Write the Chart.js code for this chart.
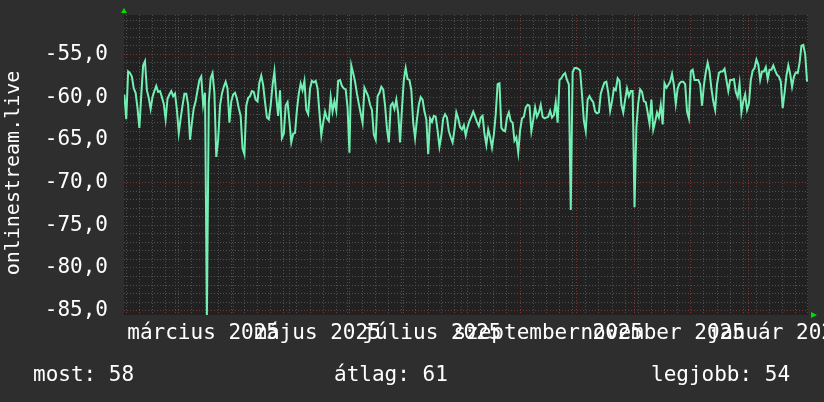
<!DOCTYPE html>
<html>
<head>
<meta charset="utf-8">
<script src="https://cdn.jsdelivr.net/npm/chart.js@4.4.1/dist/chart.umd.min.js"></script>
<style>
  html, body { margin: 0; padding: 0; background: #2e2e2e; }
  canvas { display: block; }
</style>
</head>
<body>
<canvas id="chart" width="824" height="402"></canvas>
<script>
// day numbers count from 2025-02-01 (day 0)
const firstDay = 1
const values = [
  -59.7, -62.6, -57.0, -57.2, -57.6, -59.0, -59.5, -61.3, -63.6, -59.8,
  -56.3, -55.8, -59.2, -60.1, -61.4, -60.0, -59.3, -58.7, -59.4, -59.3,
  -60.0, -60.8, -62.6, -60.2, -59.7, -59.3, -59.9, -59.6, -61.5, -64.2,
  -62.5, -61.0, -59.6, -59.6, -60.9, -65.0, -63.0, -61.3, -60.5, -59.2,
  -58.0, -57.6, -60.9, -59.5, -85.5, -60.7, -57.8, -57.2, -59.5, -67.0,
  -65.0, -61.0, -59.6, -58.8, -58.2, -59.0, -63.0, -60.5, -59.7, -59.5,
  -60.2, -61.3, -62.2, -66.0, -66.7, -61.0, -60.1, -59.9, -59.3, -59.4,
  -60.3, -60.5, -58.3, -57.5, -58.6, -60.6, -62.4, -62.6, -61.0, -58.6,
  -57.0, -60.0, -62.2, -59.2, -64.8, -64.3, -61.0, -60.6, -62.8, -65.3,
  -64.3, -64.2, -61.5, -59.6, -58.4, -59.2, -58.1, -61.5, -62.0, -59.0,
  -58.1, -58.3, -58.1, -59.0, -61.8, -64.5, -63.0, -61.7, -62.5, -62.8,
  -60.0, -61.7, -60.5, -61.6, -58.1, -58.0, -58.7, -59.0, -59.1, -61.2,
  -66.5, -56.3, -57.2, -58.2, -59.6, -60.8, -61.9, -63.0, -58.9, -59.4,
  -59.9, -60.9, -61.5, -64.4, -65.0, -59.9, -59.5, -58.8, -59.1, -61.0,
  -63.7, -65.3, -61.0, -60.7, -61.4, -60.3, -61.9, -65.3, -61.4, -58.0,
  -56.6, -57.9, -58.0, -59.2, -63.0, -64.8, -62.6, -60.9, -60.0, -60.3,
  -61.7, -62.6, -66.7, -62.5, -62.9, -62.2, -62.3, -63.9, -65.8, -64.5,
  -62.5, -62.0, -62.4, -64.0, -64.7, -65.3, -63.8, -61.8, -62.5, -63.5,
  -63.8, -63.3, -64.5, -63.5, -62.8, -62.3, -61.7, -62.3, -62.9, -63.4,
  -62.4, -62.2, -64.3, -65.6, -63.8, -64.7, -65.9, -64.4, -62.0, -58.5,
  -58.4, -63.6, -63.9, -64.0, -62.4, -61.8, -62.8, -63.0, -65.1, -64.7,
  -66.5, -63.9, -62.5, -62.3, -61.2, -60.9, -61.0, -64.0, -62.7, -61.2,
  -62.3, -61.8, -60.9, -62.3, -62.5, -62.4, -62.3, -61.6, -62.4, -62.1,
  -60.6, -63.0, -58.0, -57.8, -57.4, -57.2, -58.0, -58.5, -73.2, -57.1,
  -56.6, -56.6, -56.7, -56.9, -59.7, -62.8, -64.0, -60.3, -59.9, -60.3,
  -60.6, -61.7, -61.9, -61.8, -59.6, -58.9, -58.3, -58.2, -59.5, -61.6,
  -60.5, -59.0, -59.2, -57.8, -58.1, -60.9, -61.8, -60.3, -59.0, -59.9,
  -59.3, -59.3, -72.9, -63.5, -60.7, -59.1, -59.4, -60.5, -60.6, -61.8,
  -63.1, -60.3, -63.8, -62.9, -61.8, -62.4, -60.9, -63.2, -58.4, -58.9,
  -58.6, -58.2, -57.3, -58.6, -60.8, -59.0, -58.4, -58.2, -58.2, -58.5,
  -61.7, -62.5, -57.0, -56.8, -58.0, -58.0, -58.0, -58.5, -61.0, -58.6,
  -57.1, -56.0, -57.0, -59.0, -60.5, -61.5, -58.5, -57.2, -57.0, -57.0,
  -56.7, -58.0, -59.3, -58.0, -58.0, -57.9, -59.4, -60.0, -58.4, -61.8,
  -60.5, -59.7, -61.5, -60.8, -58.0, -56.9, -56.6, -55.6, -56.2, -58.0,
  -57.0, -57.0, -56.5, -57.9, -56.8, -56.8, -56.3, -56.9, -57.4, -57.6,
  -58.2, -61.3, -59.5, -57.5, -56.3, -57.3, -58.8, -57.6, -57.1, -57.2,
  -56.0, -54.0, -53.9, -55.0, -58.2
]

// grid: mondays (grey) and first days of months (red)
const weekDays = [2, 9, 16, 23, 30, 37, 44, 51, 58, 65, 72, 79, 86, 93, 100, 107, 114, 121,
  128, 135, 142, 149, 156, 163, 170, 177, 184, 191, 198, 205, 212, 219, 226, 233, 240, 247,
  254, 261, 268, 275, 282, 289, 296, 303, 310, 317, 324, 331, 338, 345, 352, 359]
const monthDays = [28, 59, 89, 120, 150, 181, 212, 242, 273, 303, 334, 365]
const labelDays = [43, 104, 165, 227, 288, 349]
const monthLabels = ['március 2025', 'május 2025', 'július 2025', 'szeptember 2025', 'november 2025', 'január 2026']

const yGrid = [-85, -84, -83, -82, -81, -80, -79, -78, -77, -76, -75, -74, -73, -72, -71, -70,
  -69, -68, -67, -66, -65, -64, -63, -62, -61, -60, -59, -58, -57, -56, -55, -54, -53, -52, -51]
const yLabelled = [-85, -80, -75, -70, -65, -60, -55]

const yTitle = 'onlinestream.live'
const summary = ['most: 58', 'átlag: 61', 'legjobb: 54']

const FONT = 'DejaVu Sans Mono'
const GREY = '#4f4f4f'
const RED = '#7a3434'

Chart.defaults.font.family = FONT
Chart.defaults.color = '#ffffff'

const rrdLook = {
  id: 'rrdLook',
  beforeDraw(chart) {
    const c = chart.ctx
    const a = chart.chartArea
    c.save()
    c.fillStyle = '#2e2e2e'
    c.fillRect(0, 0, chart.width, chart.height)
    c.fillStyle = '#212121'
    c.fillRect(a.left, a.top, a.right - a.left, a.bottom - a.top)
    c.restore()
  },
  afterDraw(chart) {
    const c = chart.ctx
    const a = chart.chartArea
    c.save()
    // axis arrows
    c.fillStyle = '#00dd00'
    c.beginPath()
    c.moveTo(a.left - 3, a.top - 2)
    c.lineTo(a.left + 3, a.top - 2)
    c.lineTo(a.left, a.top - 7)
    c.closePath()
    c.fill()
    c.beginPath()
    c.moveTo(a.right + 3, a.bottom - 3)
    c.lineTo(a.right + 3, a.bottom + 3)
    c.lineTo(a.right + 9, a.bottom)
    c.closePath()
    c.fill()
    // vertical title
    c.fillStyle = '#ffffff'
    c.font = '20px ' + FONT
    c.textAlign = 'center'
    c.textBaseline = 'middle'
    c.translate(14, 173)
    c.rotate(-Math.PI / 2)
    c.fillText(yTitle, 0, 0)
    c.restore()
    // summary line
    c.save()
    c.fillStyle = '#ffffff'
    c.font = '21px ' + FONT
    c.textBaseline = 'alphabetic'
    const xs = [33, 334, 651]
    summary.forEach((t, i) => c.fillText(t, xs[i], 381))
    c.restore()
  }
}

const ctx = document.getElementById('chart').getContext('2d')
const chart = new Chart(ctx, {
  type: 'line',
  data: {
    datasets: [
      {
        data: values.map((v, i) => ({ x: firstDay + i, y: v })),
        borderColor: '#72f0b4',
        borderWidth: 2,
        pointRadius: 0,
        tension: 0
      }
    ]
  },
  options: {
    responsive: false,
    animation: false,
    events: [],
    layout: { padding: { top: 15, right: 16, left: 0, bottom: 0 } },
    plugins: { legend: { display: false }, tooltip: { enabled: false } },
    scales: {
      x: {
        type: 'linear',
        position: 'bottom',
        min: 0.8,
        max: 365.5,
        afterBuildTicks(s) {
          const all = weekDays.concat(monthDays.filter(d => !weekDays.includes(d)))
          s.ticks = all.sort((p, q) => p - q).map(v => ({ value: v }))
        },
        afterFit(s) { s.height = 0; s.paddingLeft = 0; s.paddingRight = 0 },
        grid: {
          color: c => (monthDays.includes(c.tick && c.tick.value) ? RED : GREY),
          drawTicks: false
        },
        border: { display: false, dash: [1, 2] },
        ticks: { display: false, autoSkip: false }
      },
      x2: {
        type: 'linear',
        position: 'bottom',
        min: 0.8,
        max: 365.5,
        afterBuildTicks(s) { s.ticks = labelDays.map(v => ({ value: v })) },
        afterFit(s) { s.height = 87; s.paddingLeft = 0; s.paddingRight = 0 },
        grid: { display: false },
        border: { display: false },
        ticks: {
          autoSkip: false,
          maxRotation: 0,
          minRotation: 0,
          padding: -2,
          color: '#ffffff',
          font: { size: 21 },
          callback: (v, i) => monthLabels[i]
        }
      },
      y: {
        min: -85.5,
        max: -50.4,
        afterBuildTicks(s) { s.ticks = yGrid.map(v => ({ value: v })) },
        afterFit(s) { s.width = 124; s.paddingTop = 0; s.paddingBottom = 0 },
        grid: {
          color: c => (yLabelled.includes(c.tick && c.tick.value) ? RED : GREY),
          drawTicks: false
        },
        border: { display: false, dash: [1, 2] },
        ticks: {
          autoSkip: false,
          padding: 16,
          color: '#ffffff',
          font: { size: 21 },
          callback: v => (yLabelled.includes(v) ? v.toFixed(1).replace('.', ',') : '')
        }
      }
    }
  },
  plugins: [rrdLook]
})
</script>
</body>
</html>
